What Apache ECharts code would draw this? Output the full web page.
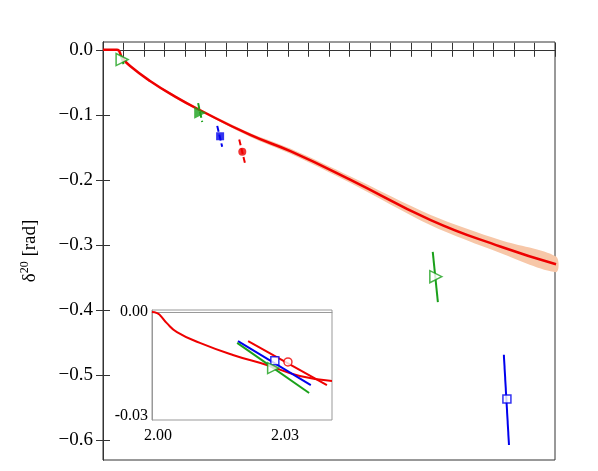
<!DOCTYPE html>
<html><head><meta charset="utf-8">
<script src="https://cdn.jsdelivr.net/npm/echarts@6/dist/echarts.min.js"></script>
<style>html,body{margin:0;background:#fff}#c{width:598px;height:471px}</style>
</head><body><div id="c"></div>
<script>
// main curve (x in arbitrary units, y in rad)
const curveX = [0, 0.68, 0.93, 1.32, 2.29, 3.51, 4.73, 7.17, 9.12, 12.05, 15.95, 19.37, 22.05];
const curveY = [0, 0, -0.012, -0.025, -0.048, -0.072, -0.093, -0.131, -0.156, -0.2, -0.262, -0.303, -0.33];
const bandW = [0, 0, 0, 0.001, 0.001, 0.002, 0.002, 0.003, 0.004, 0.005, 0.008, 0.01, 0.012];

// points: [x, y], error segment ends
const pts = [
  {x:0.93, y:-0.015, a:[0.85,-0.008], b:[1.0,-0.022], color:'#1aa01a', sym:'triangle', open:true},
  {x:4.73, y:-0.097, a:[4.63,-0.082], b:[4.83,-0.111], color:'#1aa01a', sym:'triangle', open:false},
  {x:5.7, y:-0.133, a:[5.56,-0.117], b:[5.8,-0.149], color:'#0000ee', sym:'rect', open:false},
  {x:6.78, y:-0.157, a:[6.63,-0.138], b:[6.93,-0.177], color:'#ee0000', sym:'circle', open:false},
  {x:16.2, y:-0.349, a:[16.05,-0.311], b:[16.3,-0.388], color:'#1aa01a', sym:'triangle', open:true},
  {x:19.66, y:-0.537, a:[19.51,-0.469], b:[19.76,-0.608], color:'#0000ee', sym:'rect', open:true}
];

// inset
const insetCurveX = [1.9986, 1.9998, 2.0005, 2.0021, 2.0045, 2.0099, 2.0177, 2.0257, 2.0335, 2.0411];
const insetCurveY = [0, -0.0003, -0.0009, -0.0032, -0.0058, -0.0089, -0.0124, -0.0153, -0.0185, -0.0199];
const insetPts = [
  {x:2.0307, y:-0.0144, a:[2.0213,-0.0084], b:[2.0399,-0.0211], color:'#ee0000', sym:'circle'},
  {x:2.0276, y:-0.0141, a:[2.0189,-0.0084], b:[2.0361,-0.0211], color:'#0000ee', sym:'rect'},
  {x:2.0272, y:-0.0162, a:[2.0187,-0.0089], b:[2.0357,-0.0234], color:'#1aa01a', sym:'triangle'}
];

const serif = 'Liberation Serif';
const chart = echarts.init(document.getElementById('c'));
const series = [];
// uncertainty band as a polygon
series.push({type:'custom', xAxisIndex:0, yAxisIndex:0, data:[0], z:1,
  renderItem:function(params, api){
    const up = curveX.map((x,i)=>api.coord([x, curveY[i]+bandW[i]]));
    const lo = curveX.map((x,i)=>api.coord([x, curveY[i]-bandW[i]])).reverse();
    return {type:'polygon', shape:{points:up.concat(lo), smooth:0.3}, style:{fill:'#f7c7a8'}};
  }});
series.push({type:'line', xAxisIndex:0, yAxisIndex:0, data:curveX.map((x,i)=>[x,curveY[i]]),
  symbol:'none', smooth:true, lineStyle:{color:'#ee0000', width:2.5}, z:3});
pts.forEach(p=>{
  series.push({type:'line', xAxisIndex:0, yAxisIndex:0, data:[p.a,p.b], symbol:'none',
    lineStyle:{color:p.color, width:2, type: p.open ? 'solid' : [6,3]}, z:4});
  series.push({type:'scatter', xAxisIndex:0, yAxisIndex:0, data:[[p.x,p.y]], symbol:p.sym,
    symbolSize: p.sym==='triangle'?12:8, symbolRotate: p.sym==='triangle'?-90:0,
    itemStyle: p.open ? {color:'#fff', borderColor:p.color, borderWidth:1.5} : {color:p.color}, z:5});
});
series.push({type:'line', xAxisIndex:2, yAxisIndex:2, data:insetCurveX.map((x,i)=>[x,insetCurveY[i]]),
  symbol:'none', smooth:true, lineStyle:{color:'#ee0000', width:2}, z:12});
insetPts.forEach(p=>{
  series.push({type:'line', xAxisIndex:2, yAxisIndex:2, data:[p.a,p.b], symbol:'none',
    lineStyle:{color:p.color, width:2}, z:12});
  series.push({type:'scatter', xAxisIndex:2, yAxisIndex:2, data:[[p.x,p.y]], symbol:p.sym,
    symbolSize: p.sym==='triangle'?11:8, symbolRotate: p.sym==='triangle'?-90:0,
    itemStyle:{color:'#fff', borderColor:p.color, borderWidth:1.5}, z:13});
});

const tickIn = {show:true, inside:true, length:7, lineStyle:{color:'#333'}};
const yTicks = [0,-0.1,-0.2,-0.3,-0.4,-0.5,-0.6];
chart.setOption({
  animation:false,
  grid:[
    {left:103, top:42, right:43, bottom:11, show:true, borderColor:'#333', borderWidth:1},
    {left:152, top:310, width:180, height:110, show:true, backgroundColor:'#fff', borderColor:'#999', borderWidth:1, z:10}
  ],
  xAxis:[
    {type:'value', gridIndex:0, min:0, max:22, interval:1, axisLabel:{show:false}, splitLine:{show:false},
     axisLine:{lineStyle:{color:'#333'}}, axisTick:tickIn},
    {type:'value', gridIndex:0, position:'top', min:0, max:22, interval:1, axisLabel:{show:false}, splitLine:{show:false},
     axisLine:{lineStyle:{color:'#333'}}, axisTick:tickIn},
    {type:'value', gridIndex:1, min:1.9986, max:2.0411, splitLine:{show:false}, z:11,
     axisLine:{lineStyle:{color:'#999'}}, axisTick:{show:false},
     axisLabel:{fontFamily:serif, fontSize:16, color:'#000', formatter:v=>v.toFixed(2),
       customValues:[2.00, 2.03]}}
  ],
  yAxis:[
    {type:'value', gridIndex:0, min:-0.631, max:0.012, splitLine:{show:false},
     axisLine:{lineStyle:{color:'#333'}}, axisTick:Object.assign({customValues:yTicks}, tickIn),
     axisLabel:{fontFamily:serif, fontSize:19, color:'#000', margin:10,
       customValues:yTicks, formatter:v=>v.toFixed(1).replace('-','−')},
     name:'{d|δ}{s|20}{d| [rad]}', nameLocation:'middle', nameGap:62, nameRotate:90,
     nameTextStyle:{rich:{d:{fontFamily:serif, fontSize:19, color:'#000'},
       s:{fontFamily:serif, fontSize:12, color:'#000', verticalAlign:'top', padding:[0,0,10,0]}}}},
    {type:'value', gridIndex:0, position:'right', min:-0.631, max:0.012, splitLine:{show:false},
     axisLabel:{show:false}, axisLine:{lineStyle:{color:'#333'}},
     axisTick:Object.assign({customValues:yTicks}, tickIn)},
    {type:'value', gridIndex:1, min:-0.0312, max:0.0006, splitLine:{show:false}, z:11,
     axisLine:{lineStyle:{color:'#999'}}, axisTick:{show:false},
     axisLabel:{fontFamily:serif, fontSize:16, color:'#000', margin:4,
       customValues:[0,-0.03], formatter:v=>v===0?'0.00':'-0.03'}}
  ],
  series:series
});
</script></body></html>
